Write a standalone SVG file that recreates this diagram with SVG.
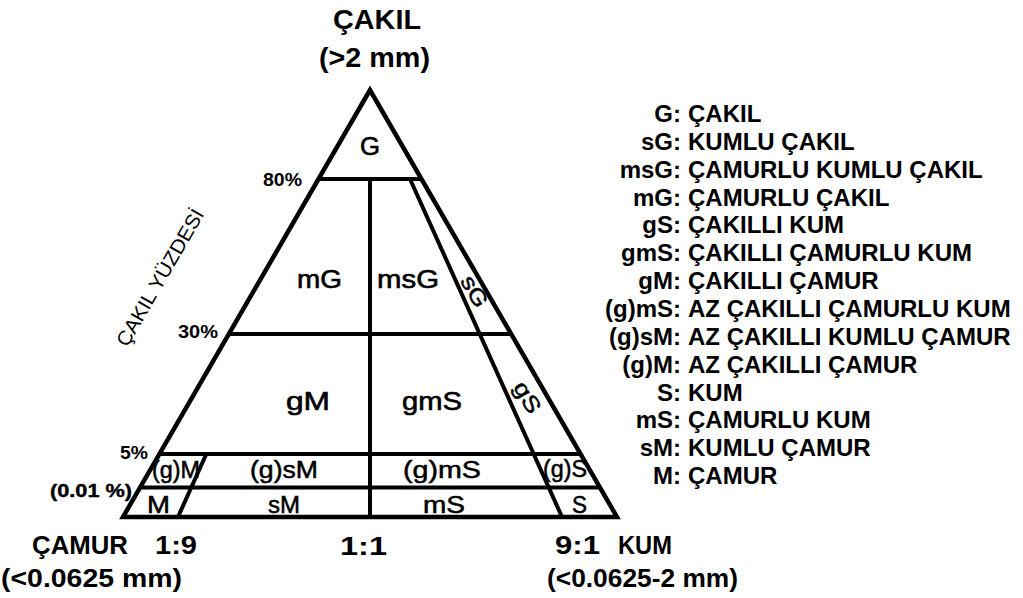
<svg xmlns="http://www.w3.org/2000/svg" width="1023" height="598" viewBox="0 0 1023 598">
<style>
text{font-family:"Liberation Sans",Arial,sans-serif;fill:#000}
.t{font-size:27px;font-weight:bold}
.bt{font-size:25px;font-weight:bold}
.in{font-size:25px;stroke:#000;stroke-width:0.6}
.row{font-size:23px;stroke:#000;stroke-width:0.5}
.pc{font-size:17.5px;font-weight:bold}
.rot{font-size:22px;stroke:#000;stroke-width:0.5}
.ax{font-size:20px}
.lg{font-size:24px;font-weight:bold}
.ln{stroke:#000;stroke-width:4;fill:none}
</style>
<rect width="1023" height="598" fill="#fff"/>
<g id="triangle">
<polygon points="370,90 123,517 617,517" fill="none" stroke="#000" stroke-width="4.5" stroke-linejoin="miter"/>
</g>
<g id="connectors">
<line class="ln" x1="318.5" y1="179" x2="421.5" y2="179"/>
<line class="ln" x1="228.9" y1="334" x2="511.1" y2="334"/>
<line class="ln" x1="159.4" y1="454" x2="580.6" y2="454"/>
<line class="ln" x1="140.1" y1="487.5" x2="599.9" y2="487.5"/>
<line class="ln" x1="370" y1="179" x2="370" y2="517"/>
<line class="ln" x1="410" y1="179" x2="562" y2="517"/>
<line class="ln" x1="206.3" y1="454" x2="178" y2="517"/>
</g>
<g id="titles">
<text class="t" x="333" y="29" textLength="88" lengthAdjust="spacingAndGlyphs">ÇAKIL</text>
<text class="t" x="319" y="67" textLength="111" lengthAdjust="spacingAndGlyphs">(&gt;2 mm)</text>
<text class="bt" x="32" y="554" textLength="96" lengthAdjust="spacingAndGlyphs">ÇAMUR</text>
<text class="bt" x="155" y="554" textLength="42" lengthAdjust="spacingAndGlyphs">1:9</text>
<text class="bt" x="1" y="587" textLength="181" lengthAdjust="spacingAndGlyphs">(&lt;0.0625 mm)</text>
<text class="bt" x="340" y="555" textLength="47" lengthAdjust="spacingAndGlyphs">1:1</text>
<text class="bt" x="555" y="554" textLength="45" lengthAdjust="spacingAndGlyphs">9:1</text>
<text class="bt" x="618" y="554" textLength="54" lengthAdjust="spacingAndGlyphs">KUM</text>
<text class="bt" x="547" y="587" textLength="191" lengthAdjust="spacingAndGlyphs">(&lt;0.0625-2 mm)</text>
</g>
<g id="axis-labels">
<text class="pc" x="263" y="186" textLength="39" lengthAdjust="spacingAndGlyphs">80%</text>
<text class="pc" x="178" y="338" textLength="40" lengthAdjust="spacingAndGlyphs">30%</text>
<text class="pc" x="120" y="459" textLength="28" lengthAdjust="spacingAndGlyphs">5%</text>
<text class="pc" x="50" y="497" textLength="82" lengthAdjust="spacingAndGlyphs" font-weight="normal" stroke="#000" stroke-width="0.4">(0.01 %)</text>
<text class="ax" transform="translate(166,281) rotate(-60)" text-anchor="middle" textLength="155" lengthAdjust="spacingAndGlyphs">ÇAKIL YÜZDESİ</text>
</g>
<g id="node-G"><text class="in" x="360" y="155" textLength="20" lengthAdjust="spacingAndGlyphs">G</text></g>
<g id="node-mG"><text class="in" x="297" y="288" textLength="45" lengthAdjust="spacingAndGlyphs">mG</text></g>
<g id="node-msG"><text class="in" x="377" y="288" textLength="62" lengthAdjust="spacingAndGlyphs">msG</text></g>
<g id="node-sG"><text class="rot" transform="translate(475,291) rotate(60)" x="0" y="8" text-anchor="middle" textLength="33" lengthAdjust="spacingAndGlyphs">sG</text></g>
<g id="node-gM"><text class="in" x="286" y="410" textLength="44" lengthAdjust="spacingAndGlyphs">gM</text></g>
<g id="node-gmS"><text class="in" x="402" y="410" textLength="60" lengthAdjust="spacingAndGlyphs">gmS</text></g>
<g id="node-gS"><text class="rot" transform="translate(528,397) rotate(60)" x="0" y="8" text-anchor="middle" textLength="33" lengthAdjust="spacingAndGlyphs">gS</text></g>
<g id="node-gM2"><text class="row" x="152" y="478" textLength="48" lengthAdjust="spacingAndGlyphs">(g)M</text></g>
<g id="node-gsM"><text class="row" x="250" y="478" textLength="68" lengthAdjust="spacingAndGlyphs">(g)sM</text></g>
<g id="node-gmS2"><text class="row" x="403" y="478" textLength="78" lengthAdjust="spacingAndGlyphs">(g)mS</text></g>
<g id="node-gS2"><text class="row" x="543" y="477" textLength="44" lengthAdjust="spacingAndGlyphs">(g)S</text></g>
<g id="node-M"><text class="row" x="147" y="513" textLength="23" lengthAdjust="spacingAndGlyphs">M</text></g>
<g id="node-sM"><text class="row" x="268" y="513" textLength="32" lengthAdjust="spacingAndGlyphs">sM</text></g>
<g id="node-mS"><text class="row" x="423" y="513" textLength="42" lengthAdjust="spacingAndGlyphs">mS</text></g>
<g id="node-S"><text class="row" x="572" y="513" textLength="15" lengthAdjust="spacingAndGlyphs">S</text></g>
<g id="legend">
<text class="lg" x="681" y="122" text-anchor="end">G:</text><text class="lg" x="688" y="122">ÇAKIL</text>
<text class="lg" x="681" y="150" text-anchor="end">sG:</text><text class="lg" x="688" y="150">KUMLU ÇAKIL</text>
<text class="lg" x="681" y="178" text-anchor="end">msG:</text><text class="lg" x="688" y="178">ÇAMURLU KUMLU ÇAKIL</text>
<text class="lg" x="681" y="205.5" text-anchor="end">mG:</text><text class="lg" x="688" y="205.5">ÇAMURLU ÇAKIL</text>
<text class="lg" x="681" y="233.4" text-anchor="end">gS:</text><text class="lg" x="688" y="233.4">ÇAKILLI KUM</text>
<text class="lg" x="681" y="261.2" text-anchor="end">gmS:</text><text class="lg" x="688" y="261.2">ÇAKILLI ÇAMURLU KUM</text>
<text class="lg" x="681" y="289" text-anchor="end">gM:</text><text class="lg" x="688" y="289">ÇAKILLI ÇAMUR</text>
<text class="lg" x="681" y="317" text-anchor="end">(g)mS:</text><text class="lg" x="688" y="317">AZ ÇAKILLI ÇAMURLU KUM</text>
<text class="lg" x="681" y="344.8" text-anchor="end">(g)sM:</text><text class="lg" x="688" y="344.8">AZ ÇAKILLI KUMLU ÇAMUR</text>
<text class="lg" x="681" y="372.6" text-anchor="end">(g)M:</text><text class="lg" x="688" y="372.6">AZ ÇAKILLI ÇAMUR</text>
<text class="lg" x="681" y="400.5" text-anchor="end">S:</text><text class="lg" x="688" y="400.5">KUM</text>
<text class="lg" x="681" y="428.3" text-anchor="end">mS:</text><text class="lg" x="688" y="428.3">ÇAMURLU KUM</text>
<text class="lg" x="681" y="456.2" text-anchor="end">sM:</text><text class="lg" x="688" y="456.2">KUMLU ÇAMUR</text>
<text class="lg" x="681" y="484" text-anchor="end">M:</text><text class="lg" x="688" y="484">ÇAMUR</text>
</g>
</svg>
